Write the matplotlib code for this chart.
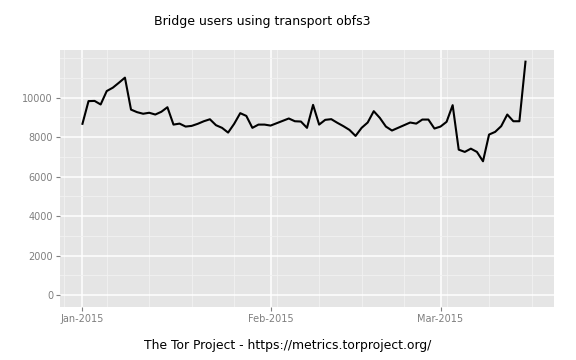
import matplotlib
matplotlib.use('Agg')
from matplotlib import pyplot as plt
import matplotlib.dates as mdates
import matplotlib.ticker as mticker
import numpy as np
import pandas as pd

# daily bridge users (obfs3), starting Jan 1 2015
users = [8680, 9830, 9840, 9660, 10340, 10510, 10760, 11020, 9400, 9270,
         9190, 9240, 9150, 9290, 9520, 8640, 8690, 8540, 8575, 8680,
         8810, 8910, 8610, 8475, 8235, 8680, 9220, 9080, 8475, 8640,
         8640, 8590, 8710, 8830, 8950, 8810, 8795, 8475, 9640, 8640,
         8880, 8915, 8730, 8560, 8370, 8065, 8475, 8745, 9320, 8980,
         8540, 8340, 8475, 8610, 8745, 8690, 8895, 8895, 8440, 8540,
         8780, 9625, 7370, 7255, 7420, 7255, 6780, 8135, 8270, 8560,
         9150, 8810, 8810, 11830]
start = '2015-01-01'
end = '2015-03-16'
y_ticks = [0, 2000, 4000, 6000, 8000, 10000]

dates = pd.date_range(start, periods=len(users), freq='D')

fig = plt.figure(figsize=(5.76, 3.6), dpi=100)
ax = fig.add_axes([60 / 576, 53.3 / 360, 494 / 576, 256.7 / 360])
ax.set_facecolor('#E5E5E5')
for s in ax.spines.values():
    s.set_visible(False)

ax.plot(dates, users, color='black', lw=1.5, zorder=3)

# x range with 5% padding like ggplot
x0 = mdates.date2num(pd.Timestamp(start))
x1 = mdates.date2num(pd.Timestamp(end))
pad = (x1 - x0) * 0.05
ax.set_xlim(x0 - pad, x1 + pad)
ymax = max(users)
ax.set_ylim(-ymax * 0.05, ymax * 1.05)

ax.xaxis.set_major_locator(mdates.MonthLocator())
ax.xaxis.set_major_formatter(mdates.DateFormatter('%b-%Y'))
ax.xaxis.set_minor_locator(mdates.WeekdayLocator(byweekday=mdates.MO))
ax.yaxis.set_major_locator(mticker.FixedLocator(y_ticks))
ax.yaxis.set_minor_locator(mticker.MultipleLocator(1000))

ax.grid(which='minor', color='#F2F2F2', lw=0.6, zorder=0)
ax.grid(which='major', color='white', lw=1.1, zorder=1)
ax.set_axisbelow(True)

ax.tick_params(which='major', length=3, width=0.8, color='#7F7F7F',
               labelcolor='#7F7F7F', labelsize=7, pad=2)
ax.tick_params(which='minor', length=0)

fig.text(262 / 576, 1 - 22 / 360, 'Bridge users using transport obfs3',
         ha='center', va='center', fontsize=9)
fig.text(288 / 576, 1 - 345 / 360,
         'The Tor Project - https://metrics.torproject.org/',
         ha='center', va='center', fontsize=8.9)

fig.savefig('out.png', dpi=100)
